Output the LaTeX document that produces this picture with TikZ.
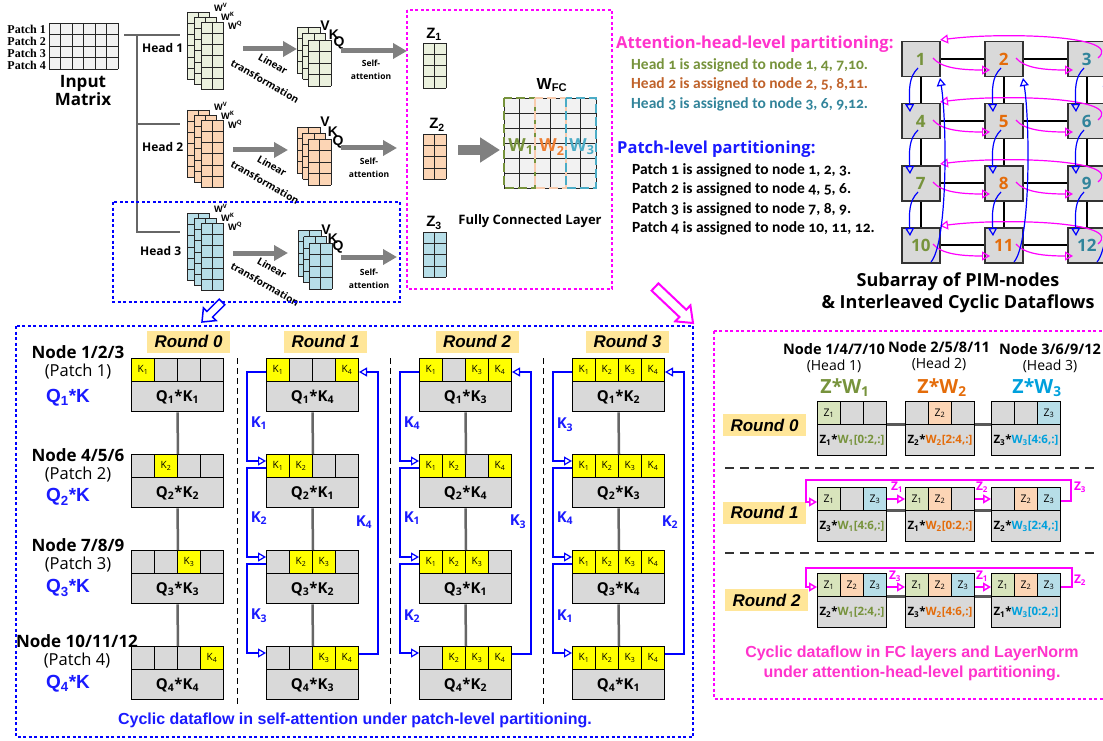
\documentclass[tikz,border=0pt]{standalone}
\usepackage{fontspec}
\setmainfont{Liberation Sans}
\newfontfamily\osf{Open Sans}
\newfontfamily\cdf{Carlito}[Numbers=OldStyle]
\newfontfamily\tmf{Liberation Serif}
\usetikzlibrary{arrows.meta,calc}
\newcommand\fsz[2]{\fontsize{#1}{#2}\selectfont}
\definecolor{lgray}{HTML}{F2F2F2}
\definecolor{cgray}{HTML}{D9D9D9}
\definecolor{kyel}{HTML}{FFFF00}
\definecolor{rbg}{HTML}{FFE699}
\definecolor{hgrn}{HTML}{EBF1DE}
\definecolor{horg}{HTML}{FCD5B5}
\definecolor{hblu}{HTML}{B7DEE8}
\definecolor{zc1}{HTML}{D8E4BC}
\definecolor{zc2}{HTML}{FCD5B5}
\definecolor{zc3}{HTML}{B7DEE8}
\definecolor{olv}{HTML}{77933C}
\definecolor{org}{HTML}{E46C0A}
\definecolor{brn}{HTML}{C0622A}
\definecolor{tea}{HTML}{31849B}
\definecolor{cya}{HTML}{00A0DC}
\definecolor{w2o}{HTML}{ED7D31}
\definecolor{w2b}{HTML}{F8CBAD}
\definecolor{w3b}{HTML}{4BACC6}
\definecolor{bl}{HTML}{0000FF}
\definecolor{blt}{HTML}{1A1AFF}
\definecolor{mg}{HTML}{FF00FF}
\definecolor{pk}{HTML}{FF33CC}
\definecolor{gar}{HTML}{808080}
\definecolor{trg}{HTML}{666666}
\newcommand\gmat[7]{%
  \fill[#7] (#1,#2) rectangle ++({#3*#5},{#4*#6});
  \foreach \ii in {0,...,#3} {\draw[glin] ({#1+\ii*#5},#2) -- ++(0,{#4*#6});}
  \foreach \jj in {0,...,#4} {\draw[glin] (#1,{#2+\jj*#6}) -- ++({#3*#5},0);}
}
\newcommand\kblk[9]{%
  \foreach \kk [count=\cc from 0] in {#4,#5,#6,#7} {%
    \ifnum\kk=0
      \node[kc,fill=cgray] (x\cc-#3) at ({#1+23*\cc},#2) {};
    \else
      \node[kc,fill=kyel] (x\cc-#3) at ({#1+23*\cc},#2) {K\textsubscript{\kk}};
    \fi
  }
  \node[qk] (#3) at (#1,{#2+23.3}) {Q\textsubscript{#8}*K\textsubscript{#9}};
}
\newcommand\zblk[7]{%
  \foreach \kk [count=\cc from 0] in {#4,#5,#6} {%
    \ifnum\kk=0
      \node[zc,fill=cgray] (x\cc-#3) at ({#1+23*\cc},#2) {};
    \else
      \node[zc,fill=zc\kk] (x\cc-#3) at ({#1+23*\cc},#2) {Z\textsubscript{\kk}};
    \fi
  }
  \node[zq] (#3) at (#1,{#2+23.3}) {#7};
}
\newcommand\zwl[4]{Z\textsubscript{#1}*\textcolor{#4}{W\textsubscript{#2}[#3]}}
\newcommand\blkarrow[6]{%
  \coordinate (ba-c) at ($(#2)!#5!(#1)$);
  \draw[#6] ($(#1)!#3!90:(#2)$) -- ($(ba-c)!#3!-90:(#1)$) -- ($(ba-c)!#4!-90:(#1)$) -- (#2)
    -- ($(ba-c)!#4!90:(#1)$) -- ($(ba-c)!#3!90:(#1)$) -- ($(#1)!#3!-90:(#2)$) -- cycle;
}
\begin{document}
\begin{tikzpicture}[x=1pt,y=-1pt,
  glin/.style={draw=black!85,line width=0.8},
  trln/.style={draw=trg,line width=2.5},
  garr/.style={draw=gar,line width=5,-{Triangle[length=14pt,width=15pt]}},
  bdot/.style={draw=bl,line width=1.8,dash pattern=on 3pt off 2.5pt},
  mdot/.style={draw=mg,line width=1.8,dash pattern=on 3pt off 2.5pt},
  sepd/.style={draw=black,line width=1,dash pattern=on 6pt off 4pt},
  sepr/.style={draw=black!80,line width=1.6,dash pattern=on 9pt off 6pt},
  kc/.style={draw=black,line width=1,inner sep=0,minimum width=23,minimum height=23.3,anchor=north west,font=\osf\fsz{10}{10}},
  qk/.style={draw=black,line width=1,fill=cgray,inner sep=0,minimum width=92,minimum height=30,anchor=north west,font=\osf\bfseries\fsz{15}{15}},
  zc/.style={draw=black,line width=1,inner sep=0,minimum width=23,minimum height=23.3,anchor=north west,font=\osf\fsz{10.5}{10.5}},
  zq/.style={draw=black,line width=1,fill=cgray,inner sep=0,minimum width=69,minimum height=31,anchor=north west,font=\osf\bfseries\fsz{11.5}{11.5}},
  gconn/.style={draw=black!60,line width=2.5},
  barr/.style={draw=bl,line width=1.2,-{Triangle[open,length=8pt,width=9pt]}},
  marr/.style={draw=mg,line width=1.5,-{Triangle[open,length=8pt,width=9pt]}},
  rnd/.style={fill=rbg,inner sep=0,minimum width=83,minimum height=22,font=\bfseries\itshape\fsz{17}{17}},
  klab/.style={text=blt,font=\osf\bfseries\fsz{15}{15},inner sep=0},
  mlab/.style={text=mg,font=\osf\bfseries\fsz{12}{12},inner sep=0},
  pim/.style={draw=black!80,fill=cgray,line width=1.5,minimum width=38,minimum height=35,inner sep=0,anchor=north west,font=\osf\bfseries\fsz{17}{17}},
  pl/.style={draw=black,line width=2},
  ptl/.style={anchor=east,inner sep=0,font=\tmf\bfseries\fsz{12}{12}},
  hdl/.style={anchor=west,inner sep=0,font=\osf\bfseries\fsz{12}{12}},
  wl/.style={anchor=west,inner sep=0,font=\osf\bfseries\fsz{9}{9}},
  vkq/.style={inner sep=0,font=\bfseries\fsz{14}{14}},
  ltl/.style={inner sep=0,rotate=-30,font=\osf\bfseries\fsz{10}{10}},
  sal/.style={inner sep=0,align=center,font=\osf\bfseries\fsz{8.5}{13}},
  nl/.style={inner sep=0,font=\osf\bfseries\fsz{17}{17}},
  pl2/.style={inner sep=0,font=\osf\fsz{16.5}{16.5}},
  ql/.style={inner sep=0,text=blt,font=\bfseries\fsz{19}{19}},
  hl/.style={anchor=west,inner sep=0,font=\cdf\bfseries\fsz{15.5}{15.5}},
  tl/.style={anchor=west,inner sep=0,font=\osf\bfseries\fsz{16.5}{16.5}},
  chl/.style={inner sep=0,font=\osf\bfseries\fsz{14.5}{14.5}},
  chh/.style={inner sep=0,font=\osf\fsz{14}{14}},
  zwh/.style={inner sep=0,font=\osf\bfseries\fsz{19.5}{19.5}},
  wd/.style={line width=2.5,dash pattern=on 9pt off 4pt}
]
\useasboundingbox (0,0) rectangle (1103,741);

% ================= top left: input and heads
\gmat{49}{23}{6}{4}{11.5}{11.5}{lgray}
\foreach \t/\yy [count=\c] in {Patch 1/29,Patch 2/41,Patch 3/53,Patch 4/65}
  \node[ptl] (pt\c) at (46,\yy) {\t};
\node[inner sep=0,align=center,font=\osf\bfseries\fsz{17}{18}] (inm) at (83,91) {Input\\Matrix};
\draw[trln] (124,35) -- (180,35);
\draw[trln] (137,35) -- (137,232) -- (180,232);
\draw[trln] (137,124) -- (180,124);

% weight stacks
\gmat{187}{12}{2}{6}{11}{11.3}{hgrn}
\gmat{194}{17}{2}{6}{11}{11.3}{hgrn}
\gmat{201}{22}{2}{6}{11}{11.3}{hgrn}
\gmat{187}{110}{2}{6}{11}{11.3}{horg}
\gmat{194}{115}{2}{6}{11}{11.3}{horg}
\gmat{201}{120}{2}{6}{11}{11.3}{horg}
\gmat{187}{213}{2}{6}{11}{11.3}{hblu}
\gmat{194}{218}{2}{6}{11}{11.3}{hblu}
\gmat{201}{223}{2}{6}{11}{11.3}{hblu}
\node[hdl] (hd1) at (142,48) {Head 1};
\node[hdl] (hd2) at (142,147) {Head 2};
\node[hdl] (hd3) at (140,251) {Head 3};
\foreach \yy [count=\c] in {7,106,208} {
  \node[wl] (wv\c) at (214,\yy) {W\textsuperscript{V}};
  \node[wl] (wk\c) at (221,{\yy+9}) {W\textsuperscript{K}};
  \node[wl] (wq\c) at (228,{\yy+18}) {W\textsuperscript{Q}};
}
% linear transformation arrows
\draw[garr] (243,49) coordinate (la1s) -- (297,49) coordinate (la1e);
\draw[garr] (233,150) coordinate (la2s) -- (288,150) coordinate (la2e);
\draw[garr] (233,253) coordinate (la3s) -- (288,253) coordinate (la3e);
\node[ltl] (lt1a) at (273,64) {Linear};
\node[ltl] (lt1b) at (265,81) {transformation};
\node[ltl] (lt2a) at (272,166) {Linear};
\node[ltl] (lt2b) at (265,182) {transformation};
\node[ltl] (lt3a) at (272,268) {Linear};
\node[ltl] (lt3b) at (265,284) {transformation};
% QKV stacks
\gmat{297}{27}{2}{4}{11.5}{11.5}{hgrn}
\gmat{302.5}{33.5}{2}{4}{11.5}{11.5}{hgrn}
\gmat{308}{40}{2}{4}{11.5}{11.5}{hgrn}
\gmat{297}{127}{2}{4}{11.5}{11.5}{horg}
\gmat{302.5}{133}{2}{4}{11.5}{11.5}{horg}
\gmat{308}{139}{2}{4}{11.5}{11.5}{horg}
\gmat{298}{230}{2}{4}{11.5}{11.5}{hblu}
\gmat{303.5}{236.5}{2}{4}{11.5}{11.5}{hblu}
\gmat{309}{243}{2}{4}{11.5}{11.5}{hblu}
\node[vkq] (v1) at (325,26) {V}; \node[vkq] (k1) at (334,35) {K}; \node[vkq] (q1) at (339,43) {Q};
\node[vkq] (v2) at (325,122) {V}; \node[vkq] (k2) at (333,132) {K}; \node[vkq] (q2) at (338,142) {Q};
\node[vkq] (v3) at (326,230) {V}; \node[vkq] (k3) at (333,239) {K}; \node[vkq] (q3) at (338,247) {Q};
% self-attention arrows
\draw[garr] (341,51) coordinate (sa1s) -- (407,51) coordinate (sa1e);
\draw[garr] (341,148) coordinate (sa2s) -- (397,148) coordinate (sa2e);
\draw[garr] (341,257) coordinate (sa3s) -- (397,257) coordinate (sa3e);
\node[sal] (sl1) at (371,70) {Self-\\attention};
\node[sal] (sl2) at (369,168) {Self-\\attention};
\node[sal] (sl3) at (369,279) {Self-\\attention};
\draw[bdot] (113,202) rectangle (400,302);

% ================= FC box
\draw[mdot] (407,10) rectangle (612,289);
\gmat{423}{43}{2}{4}{11.5}{11.3}{hgrn}
\gmat{423}{134}{2}{4}{11.5}{11.3}{horg}
\gmat{423}{232}{2}{4}{11.5}{11.3}{hblu}
\node[inner sep=0,font=\bfseries\fsz{15}{15}] (z1l) at (434,34) {Z\textsubscript{1}};
\node[inner sep=0,font=\bfseries\fsz{15}{15}] (z2l) at (437,125) {Z\textsubscript{2}};
\node[inner sep=0,font=\bfseries\fsz{15}{15}] (z3l) at (434,223) {Z\textsubscript{3}};
\draw[draw=gar,line width=10,-{Triangle[length=20pt,width=24pt]}] (458,150) coordinate (fca) -- (500,150) coordinate (fcb);
\gmat{504}{98}{6}{6}{15.33}{15}{lgray}
\draw[wd,draw=olv] (504,98) rectangle (535,188);
\draw[wd,draw=w2b] (535,98) rectangle (566,188);
\draw[wd,draw=w3b] (566,98) rectangle (596,188);
\node[inner sep=0,text=olv,font=\osf\bfseries\fsz{18}{18}] (w1l) at (521,147) {W\textsubscript{1}};
\node[inner sep=0,text=w2o,font=\osf\bfseries\fsz{18}{18}] (w2l) at (552,147) {W\textsubscript{2}};
\node[inner sep=0,text=w3b,font=\osf\bfseries\fsz{18}{18}] (w3l) at (582,147) {W\textsubscript{3}};
\node[inner sep=0,font=\bfseries\fsz{16}{16}] (wfc) at (552,85) {W\textsubscript{FC}};
\node[inner sep=0,font=\osf\bfseries\fsz{13}{13}] (fcl) at (530,221) {Fully Connected Layer};

% ================= top right text
\node[tl,text=pk] (aht) at (616,44) {Attention-head-level partitioning:};
\node[hl,text=olv] (h1a) at (631,65) {Head 1 is assigned to node 1, 4, 7,10.};
\node[hl,text=brn] (h2a) at (631,84) {Head 2 is assigned to node 2, 5, 8,11.};
\node[hl,text=tea] (h3a) at (631,104) {Head 3 is assigned to node 3, 6, 9,12.};
\node[tl,text=blt] (plt) at (617,149) {Patch-level partitioning:};
\node[hl] (p1a) at (632,170) {Patch 1 is assigned to node 1, 2, 3.};
\node[hl] (p2a) at (632,189) {Patch 2 is assigned to node 4, 5, 6.};
\node[hl] (p3a) at (632,209) {Patch 3 is assigned to node 7, 8, 9.};
\node[hl] (p4a) at (632,228) {Patch 4 is assigned to node 10, 11, 12.};

% ================= PIM grid
\foreach \i in {0,1,2,3} {
  \foreach \j/\cl in {0/olv,1/org,2/tea} {
    \pgfmathtruncatemacro\nn{3*\i+\j+1}
    \node[pim,text=\cl] (n\nn) at ({901+83*\j},{41+62*\i}) {\nn};
  }
}
\foreach \a/\b in {1/2,2/3,4/5,5/6,7/8,8/9,10/11,11/12}
  \draw[pl] (n\a.east) -- (n\b.west);
\foreach \a/\b in {1/4,4/7,7/10,2/5,5/8,8/11,3/6,6/9,9/12}
  \draw[pl] (n\a.south) -- (n\b.north);
\foreach \a/\b in {1/2,2/3,4/5,5/6,7/8,8/9,10/11,11/12}
  \draw[marr,line width=1.2] ($(n\a.north west)+(32,17)$) .. controls ($(n\a.north west)+(40,27)$) and ($(n\a.north west)+(60,29)$) .. ($(n\b.north west)+(6,29)$);
\foreach \s/\t in {3/1,6/4,9/7,12/10}
  \draw[marr,line width=1.2] ($(n\s.north west)+(31,17)$) .. controls ($(n\s.north west)+(58,-6)$) and ($(n\t.north west)+(99,-9)$) .. ($(n\t.north west)+(39,-1)$);
\foreach \a/\b in {1/4,4/7,7/10,2/5,5/8,8/11,3/6,6/9,9/12}
  \draw[barr] ($(n\a.north west)+(17,27)$) .. controls ($(n\a.north west)+(8,36)$) and ($(n\b.north west)+(8,-15)$) .. ($(n\b.north west)+(9,9)$);
\foreach \a/\b in {10/1,11/2,12/3}
  \draw[barr] ($(n\a.north west)+(30,35)$) .. controls ($(n\a.north west)+(47,15)$) and ($(n\b.north west)+(46,80)$) .. ($(n\b.north west)+(39,37)$);
\node[inner sep=0,align=center,font=\osf\bfseries\fsz{18}{22}] (sub) at (958,293) {Subarray of PIM-nodes\\\& Interleaved Cyclic Dataflows};

% block arrows
\coordinate (bat) at (222,302); \coordinate (bah) at (202,322);
\blkarrow{bat}{bah}{4pt}{9pt}{11pt}{draw=bl,line width=1.5,fill=white}
\coordinate (mat) at (655,287); \coordinate (mah) at (693,323);
\blkarrow{mat}{mah}{5pt}{11pt}{14pt}{draw=mg,line width=2,fill=white}

% ================= bottom left: self-attention rounds
\draw[bdot] (16,326) rectangle (693,737);
\node[rnd] (rh0) at (188.5,341.5) {Round 0};
\node[rnd] (rh1) at (325.5,341.5) {Round 1};
\node[rnd] (rh2) at (477,341.5) {Round 2};
\node[rnd] (rh3) at (627.5,341.5) {Round 3};
\foreach \xx in {237,390,543} \draw[sepd] (\xx,358) -- (\xx,705);
% row labels
\node[nl] (nd1) at (78,352) {Node 1/2/3};
\node[pl2] (pa1) at (78,372) {(Patch 1)};
\node[ql] (qa1) at (68,398) {Q\textsubscript{1}*K};
\node[nl] (nd2) at (78,455) {Node 4/5/6};
\node[pl2] (pa2) at (78,475) {(Patch 2)};
\node[ql] (qa2) at (68,497) {Q\textsubscript{2}*K};
\node[nl] (nd3) at (78,545) {Node 7/8/9};
\node[pl2] (pa3) at (78,565) {(Patch 3)};
\node[ql] (qa3) at (68,588) {Q\textsubscript{3}*K};
\node[nl] (nd4) at (77,641) {Node 10/11/12};
\node[pl2] (pa4) at (77,661) {(Patch 4)};
\node[ql] (qa4) at (68,684) {Q\textsubscript{4}*K};
% round 0
\kblk{131}{358}{k01}{1}{0}{0}{0}{1}{1}
\kblk{131}{454}{k02}{0}{2}{0}{0}{2}{2}
\kblk{131}{550}{k03}{0}{0}{3}{0}{3}{3}
\kblk{131}{646}{k04}{0}{0}{0}{4}{4}{4}
% round 1
\kblk{266}{358}{k11}{1}{0}{0}{4}{1}{4}
\kblk{266}{454}{k12}{1}{2}{0}{0}{2}{1}
\kblk{266}{550}{k13}{0}{2}{3}{0}{3}{2}
\kblk{266}{646}{k14}{0}{0}{3}{4}{4}{3}
% round 2
\kblk{419}{358}{k21}{1}{0}{3}{4}{1}{3}
\kblk{419}{454}{k22}{1}{2}{0}{4}{2}{4}
\kblk{419}{550}{k23}{1}{2}{3}{0}{3}{1}
\kblk{419}{646}{k24}{0}{2}{3}{4}{4}{2}
% round 3
\kblk{572}{358}{k31}{1}{2}{3}{4}{1}{2}
\kblk{572}{454}{k32}{1}{2}{3}{4}{2}{3}
\kblk{572}{550}{k33}{1}{2}{3}{4}{3}{4}
\kblk{572}{646}{k34}{1}{2}{3}{4}{4}{1}
\foreach \r in {0,1,2,3} {
  \foreach \i/\j in {1/2,2/3,3/4} {
    \draw[gconn] (k\r\i.south) -- (x1-k\r\j.north east);
  }
}
\foreach \r in {1,2,3} {
  \foreach \i/\j in {1/2,2/3,3/4} {
    \draw[barr] ($(x0-k\r\i.north west)+(0,14)$) -- ++(-19,0) |- ($(x0-k\r\j.north west)+(0,7)$);
  }
  \draw[barr] ($(x3-k\r4.north east)+(0,8)$) -- ++(19,0) |- ($(x3-k\r1.north east)+(0,14)$);
}
\node[klab] (ka1) at (259,423) {K\textsubscript{1}};
\node[klab] (ka2) at (259,518) {K\textsubscript{2}};
\node[klab] (ka3) at (259,616) {K\textsubscript{3}};
\node[klab] (ka4) at (364,522) {K\textsubscript{4}};
\node[klab] (kb1) at (412,423) {K\textsubscript{4}};
\node[klab] (kb2) at (412,518) {K\textsubscript{1}};
\node[klab] (kb3) at (412,616) {K\textsubscript{2}};
\node[klab] (kb4) at (518,522) {K\textsubscript{3}};
\node[klab] (kc1) at (565,425) {K\textsubscript{3}};
\node[klab] (kc2) at (565,518) {K\textsubscript{4}};
\node[klab] (kc3) at (565,616) {K\textsubscript{1}};
\node[klab] (kc4) at (670,522) {K\textsubscript{2}};
\node[inner sep=0,text=blt,font=\bfseries\fsz{16}{16}] (cap1) at (355,720) {Cyclic dataflow in self-attention under patch-level partitioning.};

% ================= bottom right: FC rounds
\draw[mdot] (714,331) rectangle (1120,699);
\node[chl] (c1h) at (834,349) {Node 1/4/7/10};
\node[chh] (c1p) at (834,366) {(Head 1)};
\node[chl] (c2h) at (939,347) {Node 2/5/8/11};
\node[chh] (c2p) at (939,364) {(Head 2)};
\node[chl] (c3h) at (1050,349) {Node 3/6/9/12};
\node[chh] (c3p) at (1050,366) {(Head 3)};
\node[zwh,text=olv] (zw1) at (845,388) {Z*W\textsubscript{1}};
\node[zwh,text=org] (zw2) at (942,388) {Z*W\textsubscript{2}};
\node[zwh,text=cya] (zw3) at (1037,388) {Z*W\textsubscript{3}};
\node[rnd] (rr0) at (764.5,425) {Round 0};
\node[rnd] (rr1) at (764.5,512.5) {Round 1};
\node[rnd] (rr2) at (766.5,600) {Round 2};
\draw[sepr] (725,468) -- (1097,468);
\draw[sepr] (725,553) -- (1097,553);
\zblk{817}{401}{z01}{1}{0}{0}{\zwl{1}{1}{0:2,:}{olv}}
\zblk{905}{401}{z02}{0}{2}{0}{\zwl{2}{2}{2:4,:}{org}}
\zblk{991}{401}{z03}{0}{0}{3}{\zwl{3}{3}{4:6,:}{cya}}
\zblk{817}{487}{z11}{1}{0}{3}{\zwl{3}{1}{4:6,:}{olv}}
\zblk{905}{487}{z12}{1}{2}{0}{\zwl{1}{2}{0:2,:}{org}}
\zblk{991}{487}{z13}{0}{2}{3}{\zwl{2}{3}{2:4,:}{cya}}
\zblk{817}{573}{z21}{1}{2}{3}{\zwl{2}{1}{2:4,:}{olv}}
\zblk{905}{573}{z22}{1}{2}{3}{\zwl{3}{2}{4:6,:}{org}}
\zblk{991}{573}{z23}{1}{2}{3}{\zwl{1}{3}{0:2,:}{cya}}
\foreach \r in {0,1,2} {
  \draw[gconn,black!65,line width=3] (z\r1.north east) -- (z\r2.north west);
  \draw[gconn,black!65,line width=3] (z\r2.north east) -- (z\r3.north west);
}
% round 1 flows
\draw[marr] ($(x2-z11.north east)+(0,12)$) -- ($(x0-z12.north west)+(0,12)$);
\draw[marr] ($(x2-z12.north east)+(0,12)$) -- ($(x0-z13.north west)+(0,12)$);
\draw[marr] ($(x2-z13.north east)+(0,14)$) -| ($(x2-z13.north east)+(10,-7)$) -| ($(x0-z11.north west)+(-11,15)$) -- ($(x0-z11.north west)+(0,15)$);
\node[mlab] (m11) at (897,487) {Z\textsubscript{1}};
\node[mlab] (m12) at (982,487) {Z\textsubscript{2}};
\node[mlab] (m13) at (1080,487) {Z\textsubscript{3}};
% round 2 flows
\draw[marr] ($(x2-z21.north east)+(0,14)$) -- ($(x0-z22.north west)+(0,14)$);
\draw[marr] ($(x2-z22.north east)+(0,14)$) -- ($(x0-z23.north west)+(0,14)$);
\draw[marr] ($(x2-z23.north east)+(0,14)$) -| ($(x2-z23.north east)+(11,-5)$) -| ($(x0-z21.north west)+(-11,14)$) -- ($(x0-z21.north west)+(0,14)$);
\node[mlab] (m21) at (895,576) {Z\textsubscript{3}};
\node[mlab] (m22) at (982,576) {Z\textsubscript{1}};
\node[mlab] (m23) at (1080,580) {Z\textsubscript{2}};
\node[inner sep=0,align=center,text=pk,font=\bfseries\fsz{16}{20}] (cap2) at (912,663) {Cyclic dataflow in FC layers and LayerNorm\\under attention-head-level partitioning.};
\end{tikzpicture}
\end{document}
